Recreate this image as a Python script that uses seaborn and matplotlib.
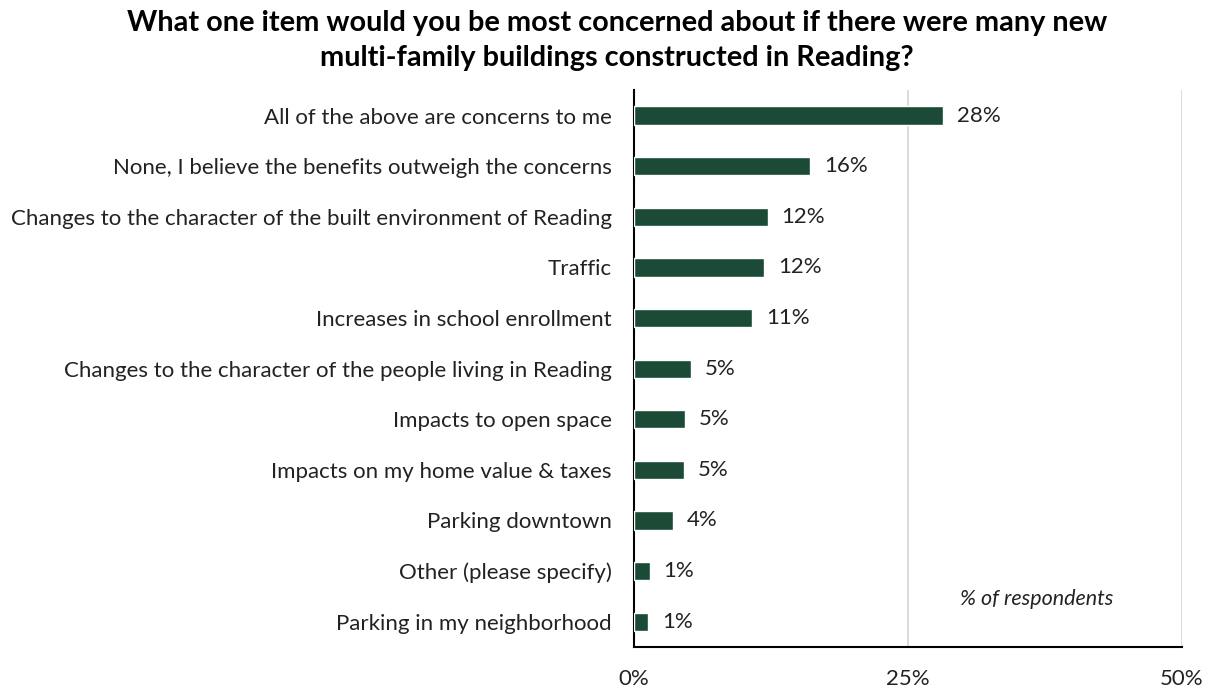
import matplotlib
matplotlib.use("Agg")
import matplotlib.pyplot as plt
import seaborn as sns
import pandas as pd

categories = [
    "All of the above are concerns to me",
    "None, I believe the benefits outweigh the concerns",
    "Changes to the character of the built environment of Reading",
    "Traffic",
    "Increases in school enrollment",
    "Changes to the character of the people living in Reading",
    "Impacts to open space",
    "Impacts on my home value & taxes",
    "Parking downtown",
    "Other (please specify)",
    "Parking in my neighborhood",
]
shares = [28.2, 16.1, 12.2, 11.9, 10.8, 5.2, 4.7, 4.6, 3.6, 1.45, 1.3]
x_ticks = [0, 25, 50]
x_tick_labels = ["0%", "25%", "50%"]

title = ("What one item would you be most concerned about if there were many new\n"
         "multi-family buildings constructed in Reading?")

sns.set_theme(style="white")
plt.rcParams["font.family"] = ["Lato", "DejaVu Sans"]

df = pd.DataFrame({"category": categories, "share": shares})

fig = plt.figure(figsize=(12.12, 6.89), dpi=100)
ax = fig.add_axes([0.523, 0.061, 0.452, 0.808])

sns.barplot(data=df, x="share", y="category", orient="h", color="#1b4a36",
            width=0.36, saturation=1, ax=ax, zorder=3)

ax.set_xlim(0, 50)
ax.set_ylim(len(categories) - 0.5, -0.5)
ax.set_xticks(x_ticks)
ax.set_xticklabels(x_tick_labels, fontsize=16, color="#222222")
ax.tick_params(axis="x", length=0, pad=16)
ax.tick_params(axis="y", length=0, pad=16, labelsize=16, labelcolor="#222222")
ax.set_xlabel("")
ax.set_ylabel("")

for x in x_ticks[1:]:
    ax.axvline(x, color="#d4d4d4", linewidth=1.2, zorder=1)

for sp in ["top", "right"]:
    ax.spines[sp].set_visible(False)
for sp in ["left", "bottom"]:
    ax.spines[sp].set_color("black")
    ax.spines[sp].set_linewidth(1.5)

for i, v in enumerate(shares):
    ax.text(v + 1.25, i, f"{round(v)}%", va="center", ha="left",
            fontsize=16, color="#222222")

ax.text(36.8, 9.55, "% of respondents", ha="center", va="center",
        fontsize=15.5, style="italic", color="#222222")

fig.text(0.509, 0.941, title, ha="center", va="center", fontsize=20.8,
         fontweight="bold", color="black", linespacing=1.45)

fig.savefig("out.png", dpi=100, facecolor="white")
